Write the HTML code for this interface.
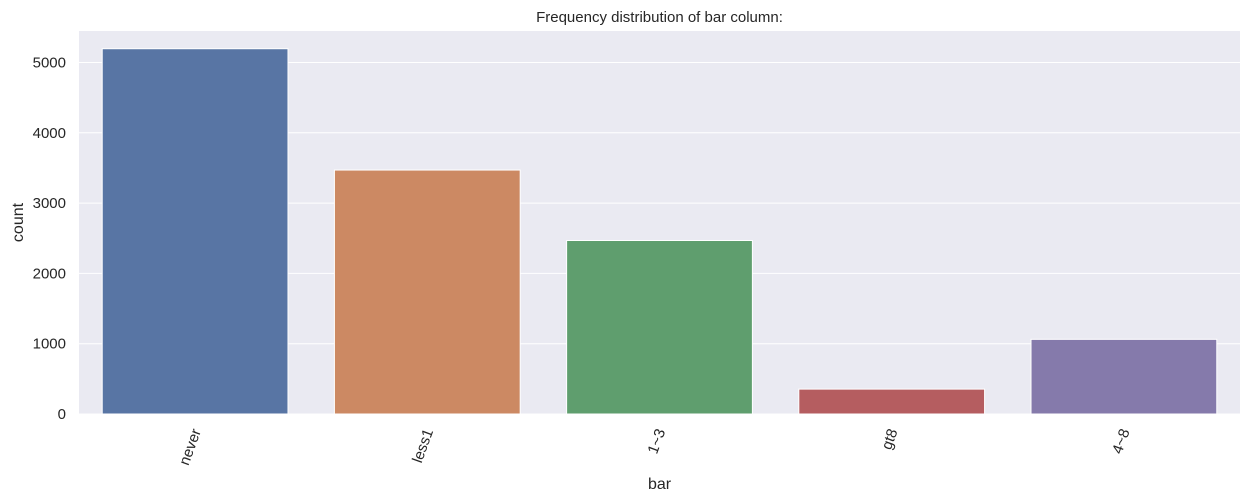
<!DOCTYPE html>
<html><head><meta charset="utf-8"><style>
body{margin:0;background:#fff;}
svg{display:block;font-family:"Liberation Sans",sans-serif;}
</style></head><body>
<svg id="c" width="1250" height="499"></svg>
<script>
const categories=["never","less1","1~3","gt8","4~8"];
const counts=[5196,3470,2468,354,1062];
const colors=["#5875a4","#cc8963","#5f9e6e","#b55d60","#857aab"];
const yTicks=[0,1000,2000,3000,4000,5000];
const L=79,R=1240,T=31,B=414,yMax=(414-31)/70.3*1000;
const ns="http://www.w3.org/2000/svg";
const svg=document.getElementById('c');
function y(v){return B-(v/yMax)*(B-T);}
const band=(R-L)/categories.length;
function x(i){return L+band*i;}
function mk(t,a,p){const e=document.createElementNS(ns,t);for(const k in a)e.setAttribute(k,a[k]);(p||svg).appendChild(e);return e;}
const bg=mk('rect',{x:L,y:T,width:R-L,height:B-T,fill:'#eaeaf2'});


yTicks.forEach(v=>{
  const g=mk('line',{x1:L,x2:R,y1:y(v),y2:y(v),stroke:'#fff','stroke-width':1});
  
  
  const t=mk('text',{x:L-13,y:y(v)+5,'text-anchor':'end','font-size':15,fill:'#262626'});
  t.textContent=v;
  
  
});
categories.forEach((c,i)=>{
  const bw=band*0.8,bx=x(i)+band*0.1;
  const r=mk('rect',{x:bx,y:y(counts[i]),width:bw,height:B-y(counts[i]),fill:colors[i],stroke:'#fff','stroke-width':1});
  
  
  const cx=x(i)+band/2;
  const t=mk('text',{x:0,y:0,'text-anchor':'end','font-size':15,fill:'#262626',transform:`translate(${cx+6},${B+17}) rotate(-70)`});
  t.textContent=c;
  
  
});
const tt=mk('text',{x:(L+R)/2,y:22,'text-anchor':'middle','font-size':15,fill:'#262626'});
tt.textContent='Frequency distribution of bar column:';


const xt=mk('text',{x:(L+R)/2,y:489,'text-anchor':'middle','font-size':16,fill:'#262626'});
xt.textContent='bar';


const yt=mk('text',{x:0,y:0,'text-anchor':'middle','font-size':16,fill:'#262626',transform:`translate(23,${(T+B)/2}) rotate(-90)`});
yt.textContent='count';


</script>
</body></html>
